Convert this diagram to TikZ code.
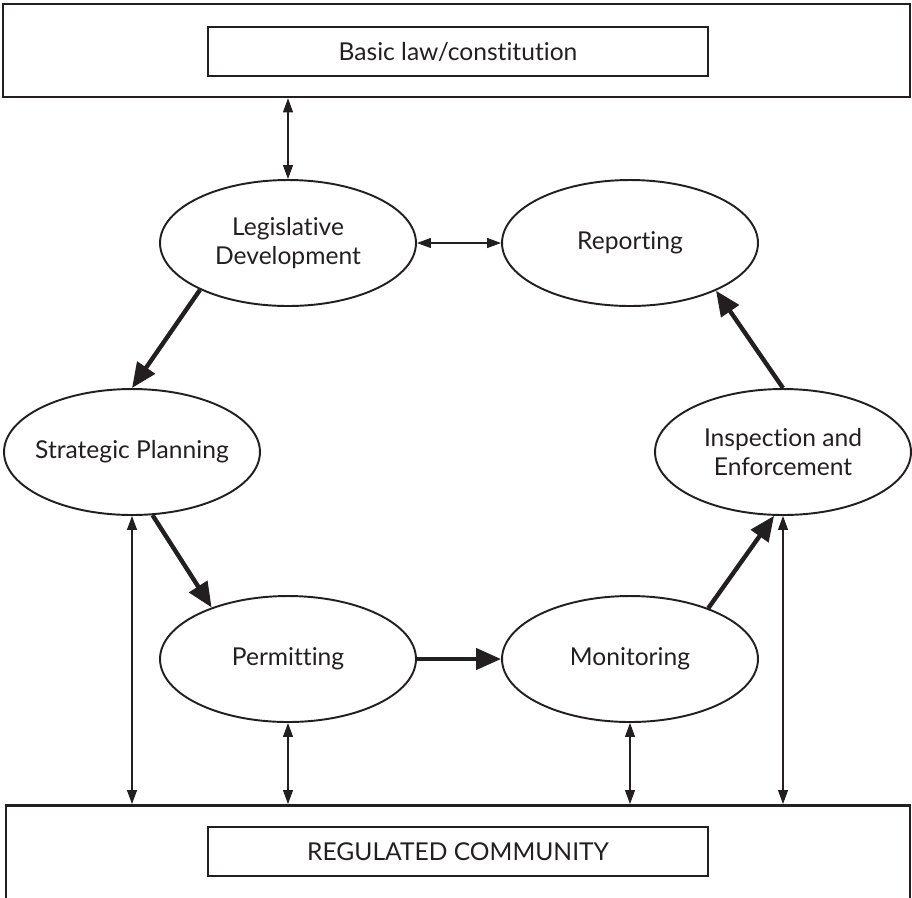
\documentclass[tikz,border=0pt]{standalone}
\usepackage{fontspec}
\setmainfont{Lato}[Ligatures={NoCommon,NoDiscretionary,NoContextual},RawFeature={-liga;-dlig}]
\usetikzlibrary{arrows.meta,shapes.geometric,positioning}
\definecolor{inkgray}{HTML}{231F20}

\tikzset{
  frame/.style={draw=inkgray,line width=1.5pt,rectangle},
  titlebox/.style={draw=inkgray,line width=0.7pt,rectangle,minimum width=10cm,minimum height=0.98cm,font=\fontsize{14}{16}\selectfont},
  stage/.style={draw=inkgray,line width=1.1pt,ellipse,minimum width=5.12cm,minimum height=2.52cm,align=center,inner sep=0pt,font=\fontsize{14}{17}\selectfont},
  flow/.style={draw=inkgray,line width=2.5pt,-{Triangle[length=0.5cm,width=0.42cm]}},
  link/.style={draw=inkgray,line width=0.6pt,{Triangle[length=0.28cm,width=0.2cm]}-{Triangle[length=0.28cm,width=0.2cm]}}
}

\begin{document}
\begin{tikzpicture}[x=0.02cm,y=-0.02cm,text=inkgray]
  \useasboundingbox (0,0) rectangle (912,897);
  % top and bottom frames
  \node[frame,minimum width=18.14cm,minimum height=1.86cm] (lawframe) at (456.5,50.5) {};
  \node[titlebox] (law) at (458,51.5) {Basic law/constitution};
  \node[frame,minimum width=18.08cm,minimum height=2.4cm,anchor=north] (commframe) at (458,804) {};
  \node[titlebox] (community) at (458,851.5) {REGULATED COMMUNITY};
  % the cycle
  \node[stage] (legis) at (288,243) {Legislative\\Development};
  \node[stage] (report) at (630,243) {Reporting};
  \node[stage,inner xsep=-0.3cm] (strat) at (132,452) {Strategic Planning};
  \node[stage] (inspect) at (783,452) {Inspection and\\Enforcement};
  \node[stage] (permit) at (288,659) {Permitting};
  \node[stage] (monitor) at (630,659) {Monitoring};
  % main flow
  \draw[flow] (legis.208) -- (strat.north);
  \draw[flow] (strat.288) -- (permit.146);
  \draw[flow] (permit.east) -- (monitor.west);
  \draw[flow] (monitor.33) -- (inspect.262);
  \draw[flow] (inspect.north) -- (report.331);
  % two-way links
  \draw[link] (legis.east) -- (report.west);
  \draw[link] (legis.north) -- (legis.north |- lawframe.south);
  \foreach \s in {strat,permit,monitor,inspect}
    \draw[link] (\s.south) -- (\s.south |- commframe.north);
\end{tikzpicture}
\end{document}
